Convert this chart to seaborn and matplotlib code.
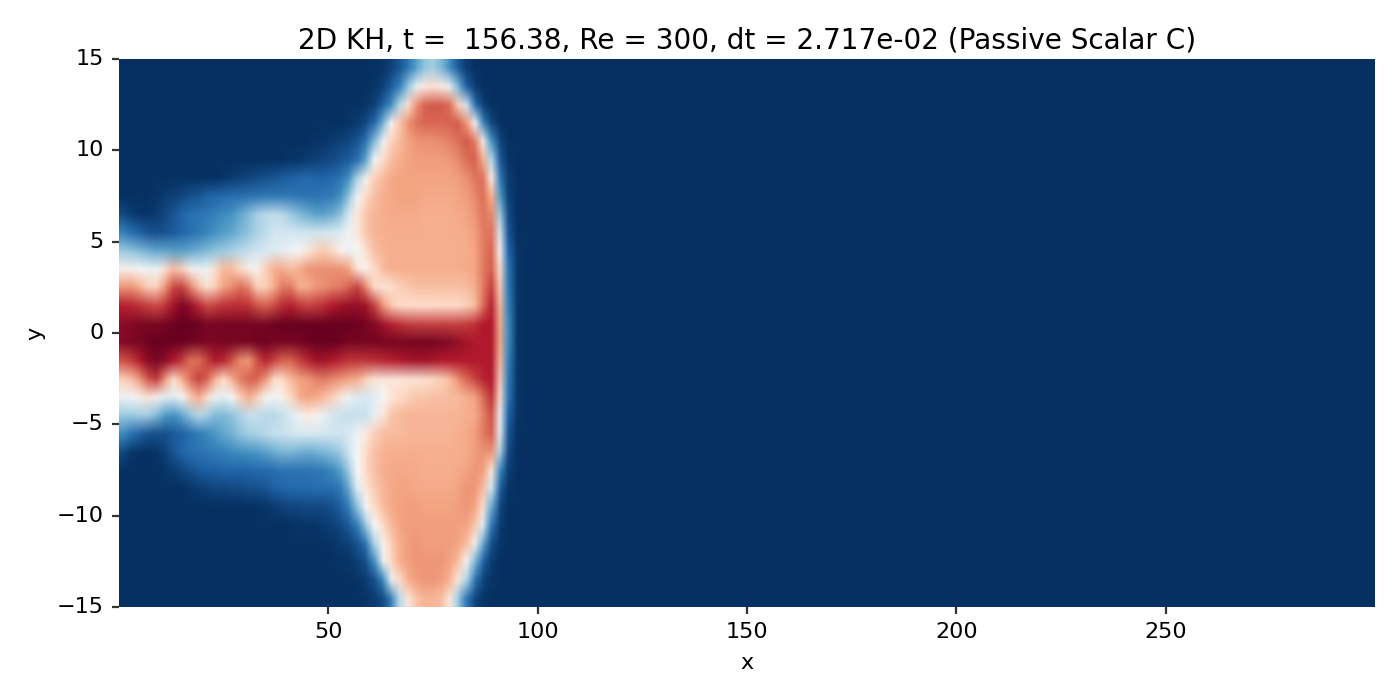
import numpy as np
import pandas as pd
import matplotlib
matplotlib.use("Agg")
import matplotlib.pyplot as plt
import seaborn as sns

# passive scalar C, 0-100, cells 2 wide in x and 1 tall in y
# each row runs x = 1, 3, ... 95, six groups of eight
zeros = [0] * 8
c_p145 = zeros + zeros + zeros + [0,0,0,0,0,0,0,1] + [3,7,13,22,30,33,27,18] + [8,2,0,0,0,0,0,0]
c_p135 = zeros + zeros + zeros + [0,0,0,0,0,0,1,3] + [8,16,30,45,55,58,55,45] + [27,9,2,0,0,0,0,0]
c_p125 = zeros + zeros + zeros + [0,0,0,0,0,1,3,9] + [18,36,58,72,80,81,81,78] + [62,40,13,3,0,0,0,0]
c_p115 = zeros + zeros + zeros + [0,0,0,1,2,5,11,26] + [50,64,73,77,79,79,79,80] + [81,72,50,18,4,0,0,0]
c_p105 = zeros + zeros + [0,0,0,0,0,0,0,1] + [1,2,3,4,7,13,28,48] + [61,66,70,72,73,73,74,75] + [78,81,76,53,20,4,0,0]
c_p095 = zeros + zeros + [0,0,0,0,1,1,2,3] + [4,5,7,8,12,24,48,60] + [65,68,70,71,71,71,71,72] + [74,78,80,68,35,8,1,0]
c_p085 = zeros + [0,0,0,0,1,2,3,4] + [5,6,7,8,9,10,11,10] + [10,11,13,20,34,52,62,66] + [69,70,70,70,70,70,70,70] + [71,73,77,78,55,15,2,0]
c_p075 = [0,0,0,0,1,2,3,4] + [6,7,9,10,11,12,12,13] + [13,14,14,14,14,13,13,13] + [14,15,20,30,48,60,65,68] + [69,70,70,70,69,69,69,69] + [70,71,74,78,68,22,3,0]
c_p065 = [5,2,1,1,2,4,7,10] + [12,13,14,16,18,20,24,28] + [33,36,37,36,32,28,25,23] + [23,25,30,42,56,64,67,68] + [69,69,69,69,68,68,68,68] + [69,70,72,77,74,32,5,0]
c_p055 = [16,12,9,7,6,7,8,10] + [12,14,17,20,22,24,27,30] + [34,37,40,41,41,40,40,40] + [41,42,44,48,56,64,67,68] + [68,68,68,68,68,68,68,68] + [68,69,71,76,77,42,7,0]
c_p045 = [32,30,28,26,24,24,23,23] + [24,26,28,30,32,34,36,38] + [40,42,43,45,47,50,55,61] + [63,60,52,47,50,58,65,67] + [68,68,68,68,68,68,68,68] + [68,68,70,76,79,50,10,1]
c_p035 = [52,52,50,47,48,58,65,62] + [52,47,48,58,66,66,60,53] + [52,62,68,69,66,68,72,73] + [73,73,73,70,57,52,60,66] + [68,68,68,68,68,68,68,68] + [68,69,70,76,80,58,13,1]
c_p025 = [72,72,68,62,62,72,83,84] + [76,65,58,62,70,74,78,74] + [62,62,68,76,76,68,68,72] + [73,75,76,80,84,74,60,56] + [58,62,64,65,65,65,65,65] + [65,66,68,76,84,62,14,1]
c_p015 = [89,88,86,84,83,86,92,97] + [94,88,83,84,86,87,87,86] + [82,80,83,87,89,86,84,85] + [87,90,92,93,93,92,84,72] + [64,60,59,59,59,59,60,60] + [60,62,66,78,88,66,16,1]
c_p005 = [95,96,97,97,97,98,99,100] + [100,99,98,98,98,98,98,98] + [98,98,99,100,100,100,100,100] + [100,100,100,100,99,98,96,92] + [89,87,85,84,84,84,84,84] + [84,85,87,90,90,68,18,1]
c_m005 = [96,97,98,99,100,100,100,100] + [99,98,97,97,98,98,98,98] + [99,99,98,98,98,98,99,100] + [100,100,99,98,98,98,98,98] + [98,98,98,98,98,98,97,96] + [94,92,90,90,90,68,18,1]
c_m015 = [82,85,90,95,97,95,90,85] + [78,78,84,90,88,82,74,72] + [82,88,84,80,80,84,88,92] + [92,90,88,86,86,86,87,88] + [89,90,91,92,92,91,90,90] + [90,90,90,90,90,66,16,1]
c_m025 = [62,65,72,82,85,72,60,68] + [78,84,80,68,60,68,76,80] + [80,72,60,60,66,70,72,75] + [76,74,72,70,68,62,57,56] + [56,56,57,57,58,60,62,66] + [73,79,84,88,90,62,14,1]
c_m035 = [47,49,53,57,52,45,45,50] + [62,68,60,48,45,50,62,68] + [62,52,48,52,60,68,70,69] + [66,62,55,47,43,42,44,50] + [56,60,62,64,64,65,65,66] + [66,68,70,78,86,58,13,1]
c_m045 = [32,32,33,33,28,22,20,24] + [30,36,33,28,28,30,34,38] + [38,36,36,38,42,48,54,52] + [46,41,39,38,38,39,46,56] + [64,66,67,67,67,67,67,67] + [67,68,69,75,82,48,9,1]
c_m055 = [18,13,9,7,6,6,8,9] + [12,15,18,21,24,26,30,33] + [34,36,38,39,40,42,42,42] + [41,40,40,42,47,55,62,65] + [66,66,67,67,67,67,67,67] + [68,69,71,76,80,45,7,0]
c_m065 = [5,1,0,0,1,3,7,10] + [12,13,14,15,16,18,19,20] + [21,23,25,27,27,26,25,26] + [27,29,33,40,50,60,65,67] + [68,68,68,68,68,68,68,68] + [68,69,71,73,72,35,5,0]
c_m075 = [0,0,0,0,0,1,2,4] + [6,8,9,9,10,10,10,10] + [11,11,12,13,13,13,13,14] + [15,18,23,33,50,60,65,68] + [69,69,69,69,68,68,68,68] + [69,70,72,71,58,18,2,0]
c_m085 = zeros + [1,2,3,4,4,5,5,6] + [6,7,9,10,11,11,11,12] + [12,12,15,25,44,56,63,67] + [69,70,70,69,69,69,69,69] + [70,72,72,66,40,9,1,0]
c_m095 = zeros + zeros + [0,1,2,3,4,4,5,5] + [5,6,9,16,30,50,60,66] + [69,70,71,71,70,70,70,70] + [71,72,70,58,25,4,0,0]
c_m105 = zeros + zeros + [0,0,0,0,0,1,1,1] + [2,3,5,8,16,32,50,60] + [66,70,71,71,71,71,71,71] + [71,70,64,45,14,2,0,0]
c_m115 = zeros + zeros + zeros + [0,1,2,3,7,14,35,52] + [62,68,71,72,71,71,71,71] + [70,66,52,25,6,1,0,0]
c_m125 = zeros + zeros + zeros + [0,0,1,1,3,6,20,48] + [60,68,71,72,72,72,72,70] + [66,52,28,10,2,0,0,0]
c_m135 = zeros + zeros + zeros + [0,0,0,0,1,2,6,18] + [45,60,68,71,72,72,71,67] + [56,35,14,4,1,0,0,0]
c_m145 = zeros + zeros + zeros + [0,0,0,0,0,1,2,5] + [15,36,56,64,67,67,65,55] + [32,14,4,1,0,0,0,0]

x_ticks = [50, 100, 150, 200, 250]
y_ticks = [15, 10, 5, 0, -5, -10, -15]
title = "2D KH, t =  156.38, Re = 300, dt = 2.717e-02 (Passive Scalar C)"

rows = [c_p145, c_p135, c_p125, c_p115, c_p105, c_p095, c_p085, c_p075, c_p065, c_p055,
        c_p045, c_p035, c_p025, c_p015, c_p005, c_m005, c_m015, c_m025, c_m035, c_m045,
        c_m055, c_m065, c_m075, c_m085, c_m095, c_m105, c_m115, c_m125, c_m135, c_m145]

# the rest of the domain, out to x = 300, is flat background
field = pd.DataFrame(rows).reindex(columns=range(150), fill_value=0)


def soften(img, dpi):
    # the reference is smooth shaded, so soften the cell edges when drawing
    out = img
    for size, axis in [(9, 1), (3, 1), (19, 0), (5, 0)]:
        pad = [(0, 0)] * 3
        pad[axis] = (size // 2, size // 2)
        padded = np.pad(out, pad, mode="edge")
        out = np.apply_along_axis(lambda v: np.convolve(v, np.ones(size) / size, mode="valid"), axis, padded)
    return out, 0, 0


fig, ax = plt.subplots(figsize=(7, 3.5), dpi=200)
sns.heatmap(field, cmap="RdBu_r", vmin=0, vmax=100, cbar=False, ax=ax)
ax.collections[0].set_agg_filter(soften)

ax.set_xticks([t / 2 for t in x_ticks])
ax.set_xticklabels(x_ticks, rotation=0)
ax.set_yticks([15 - t for t in y_ticks])
ax.set_yticklabels([str(t).replace("-", "\u2212") for t in y_ticks], rotation=0)
ax.tick_params(labelsize=8, length=2.5, width=0.8, color="#333333", pad=3)
ax.set_xlabel("x", fontsize=8)
ax.set_ylabel("y", fontsize=8)
ax.set_title(title, fontsize=10.05, pad=3.6)

fig.subplots_adjust(left=119 / 1400, right=1375 / 1400, top=1 - 59 / 700, bottom=1 - 607 / 700)
fig.savefig("out.png")
